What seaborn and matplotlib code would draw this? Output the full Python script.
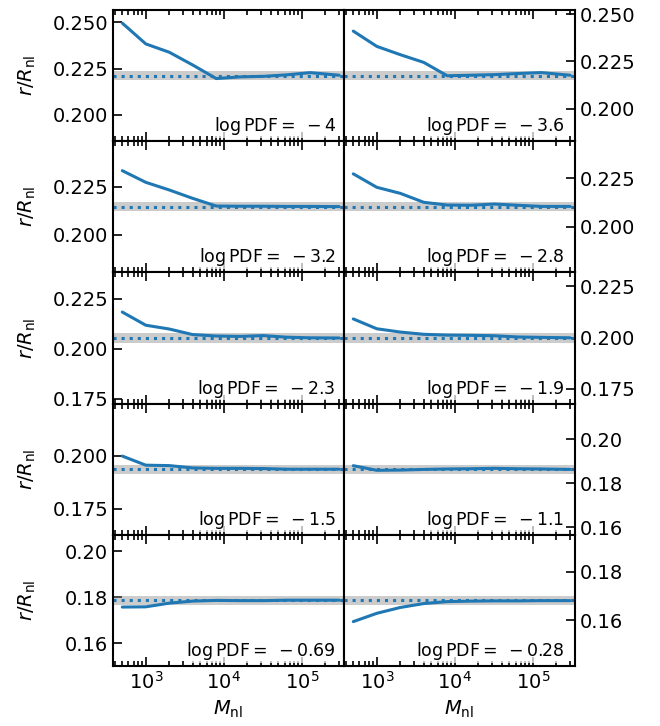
import matplotlib
matplotlib.use("Agg")
import matplotlib.pyplot as plt
import seaborn as sns
import numpy as np
import pandas as pd
from matplotlib.ticker import MaxNLocator

# Nonlinear mass resolution of the runs
masses = [500, 1000, 2000, 4000, 8000, 16000, 32000, 64000, 128000, 300000]

# PDF levels, one per panel (row-major: left, right)
log_pdf_labels = ["4", "3.6", "3.2", "2.8", "2.3", "1.9", "1.5", "1.1", "0.69", "0.28"]

# Converged radius for each PDF level (dotted line)
r_converged = [0.2212, 0.2175, 0.2145, 0.2103, 0.2054, 0.1998, 0.1937, 0.1864, 0.1786, 0.1682]

# Measured r/R_nl versus M_nl for each PDF level
r_pdf_m4 = [0.2495, 0.2383, 0.2338, 0.2269, 0.2196, 0.2205, 0.2208, 0.2216, 0.2228, 0.2214]
r_pdf_m36 = [0.2411, 0.2330, 0.2286, 0.2245, 0.2174, 0.2177, 0.2180, 0.2186, 0.2191, 0.2177]
r_pdf_m32 = [0.2334, 0.2273, 0.2233, 0.2189, 0.2149, 0.2148, 0.2148, 0.2147, 0.2147, 0.2146]
r_pdf_m28 = [0.2272, 0.2203, 0.2172, 0.2126, 0.2112, 0.2111, 0.2117, 0.2111, 0.2105, 0.2105]
r_pdf_m23 = [0.2184, 0.2118, 0.2099, 0.2071, 0.2064, 0.2062, 0.2066, 0.2058, 0.2055, 0.2054]
r_pdf_m19 = [0.2091, 0.2043, 0.2027, 0.2016, 0.2012, 0.2011, 0.2009, 0.2003, 0.2001, 0.1999]
r_pdf_m15 = [0.1999, 0.1956, 0.1954, 0.1943, 0.1941, 0.1941, 0.1940, 0.1937, 0.1937, 0.1937]
r_pdf_m11 = [0.1880, 0.1859, 0.1860, 0.1863, 0.1865, 0.1866, 0.1868, 0.1866, 0.1865, 0.1863]
r_pdf_m069 = [0.1757, 0.1758, 0.1774, 0.1783, 0.1786, 0.1785, 0.1785, 0.1787, 0.1787, 0.1787]
r_pdf_m028 = [0.1595, 0.1629, 0.1653, 0.1669, 0.1677, 0.1679, 0.1680, 0.1680, 0.1681, 0.1681]

curves = [r_pdf_m4, r_pdf_m36, r_pdf_m32, r_pdf_m28, r_pdf_m23,
          r_pdf_m19, r_pdf_m15, r_pdf_m11, r_pdf_m069, r_pdf_m028]

sns.set_style("ticks")
plt.rcParams["font.family"] = ["DejaVu Sans"]
plt.rcParams["mathtext.fontset"] = "dejavusans"
plt.rcParams["font.size"] = 14
for key in ["text.color", "axes.labelcolor", "xtick.color", "ytick.color", "axes.edgecolor"]:
    plt.rcParams[key] = "black"

blue = sns.color_palette()[0]

fig = plt.figure(figsize=(6.6, 7.26), dpi=100)
axes = fig.subplots(5, 2, sharex=True, gridspec_kw=dict(hspace=0, wspace=0))
fig.subplots_adjust(left=113 / 660, right=575 / 660, top=1 - 10 / 726, bottom=1 - 666 / 726)

for i, ax in enumerate(axes.flat):
    ref = r_converged[i]
    df = pd.DataFrame({"M": masses, "r": curves[i]})
    ax.axhspan(ref * 0.989, ref * 1.011, color="0.5", alpha=0.4, lw=0, zorder=1)
    ax.axhline(ref, color=blue, ls=":", lw=2.2, zorder=2)
    sns.lineplot(data=df, x="M", y="r", ax=ax, color=blue, lw=2.2, zorder=3)
    ax.set_xscale("log")
    ax.set_xlim(380, 3.47e5)
    ax.set_ylim(ref * 0.84, ref * 1.16)
    ax.yaxis.set_major_locator(MaxNLocator(nbins=3, steps=[1, 2, 2.5, 5, 10]))
    ax.set_xlabel("")
    ax.set_ylabel("")
    for s in ax.spines.values():
        s.set_linewidth(1.5)
        s.set_color("black")
    ax.tick_params(which="both", direction="in", top=True, bottom=True,
                   labelsize=14, width=1.2, colors="black")
    ax.tick_params(which="major", length=6.5)
    ax.tick_params(which="minor", length=3.5)
    if i % 2 == 1:
        ax.yaxis.tick_right()
        ax.tick_params(axis="y", which="both", direction="in", left=False, right=True)
        tx = 0.955
    else:
        ax.tick_params(axis="y", which="both", left=True, right=False)
        ax.set_ylabel(r"$r/R_{\rm nl}$", fontsize=14, labelpad=10)
        tx = 0.965
    ax.text(tx, 0.03, r"$\log{\rm PDF} =\;\:{-}\," + log_pdf_labels[i] + "$",
            transform=ax.transAxes, ha="right", va="bottom", fontsize=12.5,
            bbox=dict(facecolor="white", edgecolor="none", alpha=0.7, pad=0.5),
            zorder=5)
    if i >= 8:
        ax.set_xlabel(r"$M_{\rm nl}$", fontsize=14)

fig.align_ylabels(axes[:, 0])
fig.savefig("out.png", dpi=100)
